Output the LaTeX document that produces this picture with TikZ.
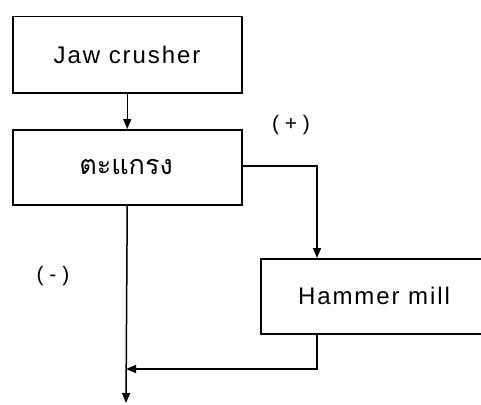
\documentclass[tikz,border=0pt]{standalone}
\usepackage{fontspec}
\setmainfont{Liberation Sans}
\newfontfamily\thaifont[Script=Thai]{Loma}
\newfontfamily\labelfont[LetterSpace=8]{Liberation Sans}
\usetikzlibrary{arrows.meta}
\tikzset{
  unitbox/.style={draw, line width=1.5pt, inner sep=0pt, anchor=north west},
  boxtext/.style={font=\labelfont\fontsize{24}{28}\selectfont},
  flow/.style={line width=1.5pt, -{Triangle[length=10pt,width=8pt]}},
  sign/.style={font=\fontsize{21}{24}\selectfont}
}
\begin{document}
\begin{tikzpicture}[x=1pt,y=-1pt]
  \useasboundingbox (0,0) rectangle (481,404);
  \clip (0,0) rectangle (481,404);
  % process boxes
  \node[unitbox, minimum width=229pt, minimum height=76pt] (jaw) at (12,16) {};
  \node[boxtext] at (127,55) {Jaw crusher};
  \node[unitbox, minimum width=229pt, minimum height=75pt] (screen) at (12,129) {};
  \node[font=\thaifont\fontsize{27}{32}\selectfont] at (126,167) {ตะแกรง};
  \node[unitbox, minimum width=240pt, minimum height=75pt] (mill) at (260,258) {};
  \node[boxtext] at (374,296) {Hammer mill};
  % feed and split
  \draw[flow] (jaw.south) -- (screen.north);
  \coordinate (oversize) at (317,166);
  \draw[flow] (screen.east |- oversize) -- (oversize) -- (317,258);
  % undersize line and return from mill
  \coordinate (bottom) at (126,403);
  \coordinate (merge) at (126,369);
  \draw[flow] (screen.south) -- (bottom);
  \draw[flow] (317,333) -- (317,369) -- (merge);
  % signs
  \node[sign] at (291,125) {( + )};
  \node[sign] at (53,276) {( - )};
\end{tikzpicture}
\end{document}
